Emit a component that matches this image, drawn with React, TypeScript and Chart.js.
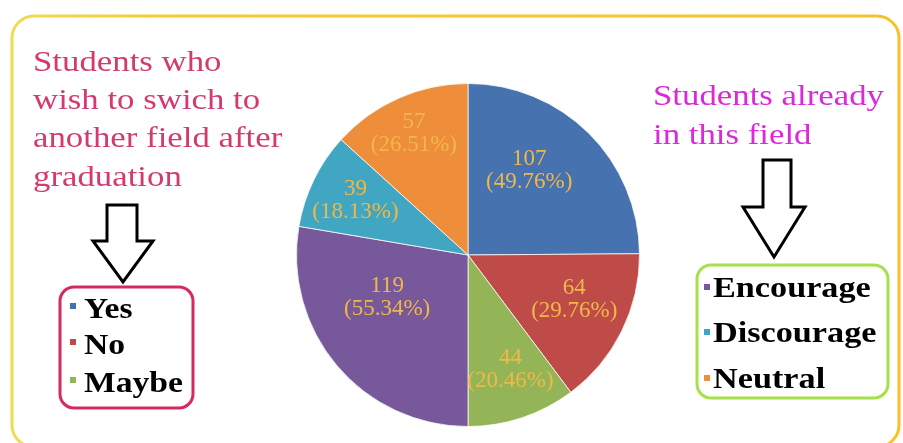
import React, { useEffect, useRef } from "react";
import { Chart, registerables } from "chart.js";

Chart.register(...registerables);

// ---- data ----
const categories = ["Yes", "No", "Maybe", "Encourage", "Discourage", "Neutral"];
const counts = [107, 64, 44, 119, 39, 57];
const percentLabels = ["49.76%", "29.76%", "20.46%", "55.34%", "18.13%", "26.51%"];
const leftGroup = ["Yes", "No", "Maybe"];
const rightGroup = ["Encourage", "Discourage", "Neutral"];
const leftTitle = ["Students who", "wish to swich to", "another field after", "graduation"];
const rightTitle = ["Students already", "in this field"];

// ---- styles ----
const sliceColors = ["#4672b0", "#be4b48", "#94b557", "#77599b", "#41a6c2", "#ee8d3a"];
const labelRadius = [0.61, 0.67, 0.71, 0.53, 0.73, 0.78];
const labelAngleShiftDeg = [-9, -4, -2, 13, 0, 0];
const SERIF = "'Liberation Serif', 'Times New Roman', serif";

function drawScaledText(ctx: CanvasRenderingContext2D, text: string, x: number, y: number, sx: number) {
  ctx.save();
  ctx.translate(x, y);
  ctx.scale(sx, 1);
  ctx.fillText(text, 0, 0);
  ctx.restore();
}

function drawArrow(ctx: CanvasRenderingContext2D, pts: number[][]) {
  ctx.save();
  ctx.beginPath();
  pts.forEach((p, i) => (i === 0 ? ctx.moveTo(p[0], p[1]) : ctx.lineTo(p[0], p[1])));
  ctx.closePath();
  ctx.fillStyle = "#ffffff";
  ctx.fill();
  ctx.lineWidth = 3;
  ctx.lineJoin = "miter";
  ctx.strokeStyle = "#000000";
  ctx.stroke();
  ctx.restore();
}

const decorPlugin = {
  id: "decor",
  beforeDraw(chart: any) {
    const ctx: CanvasRenderingContext2D = chart.ctx;
    ctx.save();
    ctx.fillStyle = "#ffffff";
    ctx.fillRect(0, 0, chart.width, chart.height);
    const g = ctx.createLinearGradient(12, 0, 899, 0);
    g.addColorStop(0, "#efdc55");
    g.addColorStop(0.15, "#f4cc33");
    g.addColorStop(1, "#f5c22a");
    ctx.strokeStyle = g;
    ctx.lineWidth = 3;
    ctx.beginPath();
    (ctx as any).roundRect(12, 16, 887, 431, 22);
    ctx.stroke();
    ctx.restore();
  },
  afterDatasetsDraw(chart: any) {
    const ctx: CanvasRenderingContext2D = chart.ctx;
    const meta = chart.getDatasetMeta(0);
    ctx.save();
    ctx.fillStyle = "#f0b848";
    ctx.font = `23px ${SERIF}`;
    ctx.textAlign = "center";
    ctx.textBaseline = "alphabetic";
    meta.data.forEach((arc: any, i: number) => {
      const p = arc.getProps(["x", "y", "startAngle", "endAngle", "outerRadius"], true);
      const mid = (p.startAngle + p.endAngle) / 2 + (labelAngleShiftDeg[i] * Math.PI) / 180;
      const r = p.outerRadius * labelRadius[i];
      const cx = p.x + Math.cos(mid) * r;
      const cy = p.y + Math.sin(mid) * r;
      ctx.fillText(String(counts[i]), cx, cy - 5);
      ctx.fillText(`(${percentLabels[i]})`, cx, cy + 18);
    });
    ctx.restore();
  },
  afterDraw(chart: any) {
    const ctx: CanvasRenderingContext2D = chart.ctx;
    ctx.save();
    ctx.textAlign = "left";
    ctx.textBaseline = "alphabetic";

    // left title
    ctx.fillStyle = "#d43a6e";
    ctx.font = `29px ${SERIF}`;
    const lb = [71, 109, 147, 186];
    leftTitle.forEach((t, i) => drawScaledText(ctx, t, 33, lb[i], 1.2));

    // right title
    ctx.fillStyle = "#dc28da";
    const rb = [105, 144];
    rightTitle.forEach((t, i) => drawScaledText(ctx, t, 653, rb[i], 1.2));

    // arrows
    drawArrow(ctx, [[107, 205], [137, 205], [137, 241], [153, 241], [123, 282], [93, 241], [107, 241]]);
    drawArrow(ctx, [[763, 160], [791, 160], [791, 207], [805, 207], [774, 257], [743, 207], [763, 207]]);

    // legend boxes
    ctx.lineWidth = 3;
    ctx.strokeStyle = "#d42a5c";
    ctx.beginPath();
    (ctx as any).roundRect(60, 287, 133, 121, 14);
    ctx.stroke();
    ctx.strokeStyle = "#a6e04a";
    ctx.beginPath();
    (ctx as any).roundRect(697, 265, 191, 133, 14);
    ctx.stroke();

    // left legend
    ctx.font = `bold 30px ${SERIF}`;
    const llb = [318, 354, 392];
    leftGroup.forEach((name, i) => {
      ctx.fillStyle = sliceColors[categories.indexOf(name)];
      ctx.fillRect(70, llb[i] - 15, 6, 6);
      ctx.fillStyle = "#000000";
      drawScaledText(ctx, name, 84, llb[i], 1.12);
    });

    // right legend
    ctx.font = `bold 29px ${SERIF}`;
    const rlb = [297, 342, 388];
    rightGroup.forEach((name, i) => {
      ctx.fillStyle = sliceColors[categories.indexOf(name)];
      ctx.fillRect(704, rlb[i] - 13, 6, 6);
      ctx.fillStyle = "#000000";
      drawScaledText(ctx, name, 713, rlb[i], 1.18);
    });
    ctx.restore();
  },
};

export default function App() {
  const ref = useRef<HTMLCanvasElement | null>(null);
  useEffect(() => {
    if (!ref.current) return;
    const chart = new Chart(ref.current, {
      type: "pie",
      data: {
        labels: categories,
        datasets: [
          {
            data: counts,
            backgroundColor: sliceColors,
            borderColor: "rgba(255,255,255,0.75)",
            borderWidth: 1,
          },
        ],
      },
      options: {
        responsive: false,
        animation: false,
        layout: { padding: { left: 296, right: 263, top: 83, bottom: 16 } },
        plugins: {
          legend: { display: false },
          tooltip: { enabled: false },
          title: { display: false },
        },
      },
      plugins: [decorPlugin],
    });
    return () => chart.destroy();
  }, []);
  return (
    <div style={{ position: "absolute", left: 0, top: 0, width: 903, height: 443, background: "#fff" }}>
      <canvas ref={ref} width={903} height={443} style={{ display: "block", width: 903, height: 443 }} />
    </div>
  );
}
